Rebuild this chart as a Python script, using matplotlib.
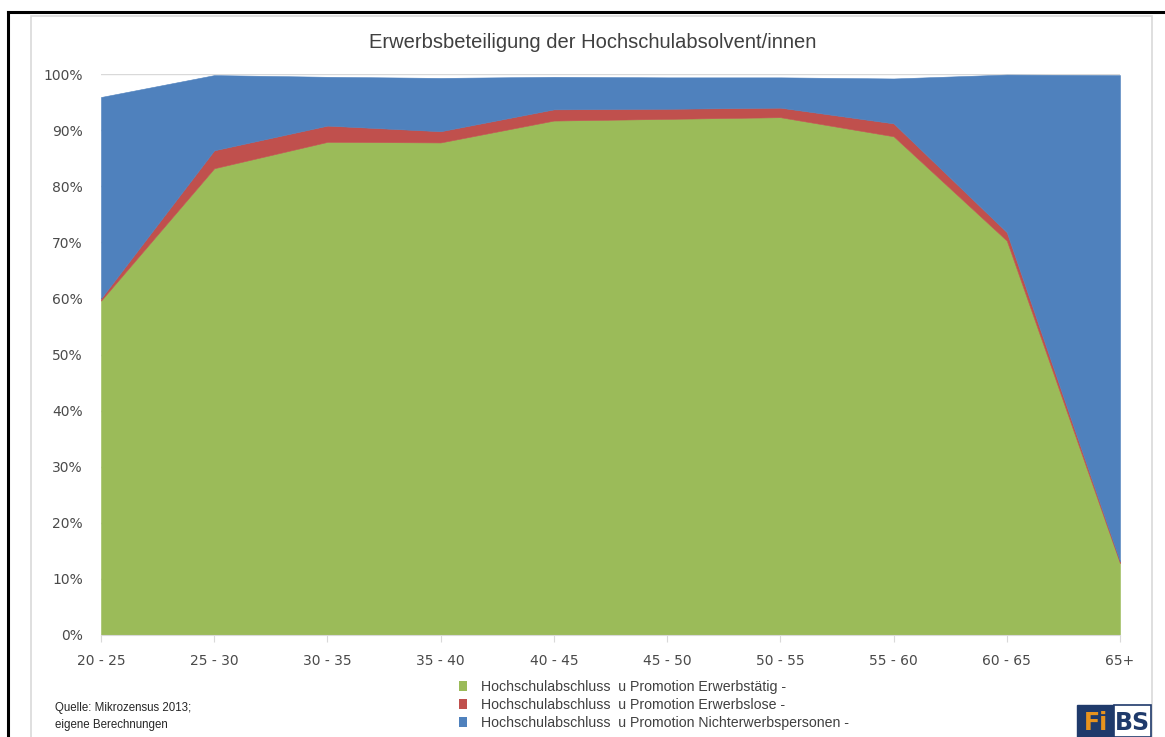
import matplotlib
matplotlib.use('Agg')
import matplotlib.pyplot as plt
from matplotlib import font_manager
from matplotlib.patches import Patch, Rectangle
from matplotlib.lines import Line2D

# ------------- Data (share of graduates, in %) -------------
age_groups = ['20 - 25', '25 - 30', '30 - 35', '35 - 40', '40 - 45',
              '45 - 50', '50 - 55', '55 - 60', '60 - 65', '65+']
employed = [59.6, 83.2, 87.9, 87.8, 91.7, 92.0, 92.3, 88.9, 70.3, 12.8]
unemployed = [0.4, 3.2, 2.9, 2.0, 2.0, 1.8, 1.7, 2.3, 1.5, 0.3]
inactive = [35.9, 13.4, 8.7, 9.5, 5.8, 5.6, 5.4, 8.0, 28.1, 86.7]

series_labels = ['Hochschulabschluss  u Promotion Erwerbstätig -',
                 'Hochschulabschluss  u Promotion Erwerbslose -',
                 'Hochschulabschluss  u Promotion Nichterwerbspersonen -']
y_ticks = [0, 10, 20, 30, 40, 50, 60, 70, 80, 90, 100]

GREEN, RED, BLUE = '#9BBB59', '#C0504D', '#4F81BD'
TEXT = '#4A4A4A'
LIGHT = '#D9D9D9'

# narrow font for title/legend if there is one
_names = {f.name for f in font_manager.fontManager.ttflist}
NARROW = 'Liberation Sans Narrow' if 'Liberation Sans Narrow' in _names else 'Liberation Sans'

W, H = 1165, 737
fig = plt.figure(figsize=(W / 100, H / 100), dpi=100)
fig.patch.set_facecolor('white')


def fx(px):
    return px / W


def fy(py):
    return 1 - py / H


ax = fig.add_axes([fx(101), fy(635), fx(1120) - fx(101), fy(74) - fy(635)])

x = list(range(len(age_groups)))
polys = ax.stackplot(x, employed, unemployed, inactive,
                     colors=[GREEN, RED, BLUE], linewidth=0.4, zorder=3)
for p, c in zip(polys, [GREEN, RED, BLUE]):
    p.set_edgecolor(c)

ax.set_xlim(0, len(age_groups) - 1)
ax.set_ylim(0, 100)
ax.set_yticks(y_ticks)
ax.set_yticklabels([f'{t}%' for t in y_ticks])
ax.set_xticks(x)
ax.set_xticklabels(age_groups)
ax.yaxis.grid(True, color=LIGHT, linewidth=1, zorder=0)
ax.set_axisbelow(True)

for s in ['top', 'right', 'left']:
    ax.spines[s].set_visible(False)
ax.spines['bottom'].set_color(LIGHT)
ax.spines['bottom'].set_zorder(4)
ax.tick_params(axis='y', length=0, pad=13, labelsize=10, labelcolor=TEXT)
ax.tick_params(axis='x', length=5, color=LIGHT, pad=9, labelsize=10, labelcolor=TEXT)
for lab in ax.get_xticklabels() + ax.get_yticklabels():
    lab.set_fontfamily('DejaVu Sans')

# title
fig.text(fx(593), fy(42), 'Erwerbsbeteiligung der Hochschulabsolvent/innen',
         ha='center', va='center', fontsize=14.5, color='#404040', family=NARROW)

# legend
handles = [Patch(facecolor=c, edgecolor='none') for c in [GREEN, RED, BLUE]]
fig.legend(handles, series_labels, loc='upper left',
           bbox_to_anchor=(fx(459), fy(680)), frameon=False,
           handlelength=0.55, handleheight=0.75, handletextpad=1.0,
           labelspacing=0.28, borderpad=0, borderaxespad=0,
           prop={'family': NARROW, 'size': 10.2}, labelcolor='#404040')

# source note
fig.text(fx(55), fy(708), 'Quelle: Mikrozensus 2013;', ha='left', va='center',
         fontsize=8.3, color='#262626', family=NARROW)
fig.text(fx(55), fy(725), 'eigene Berechnungen', ha='left', va='center',
         fontsize=8.3, color='#262626', family=NARROW)

# outer black frame (top and left) and light inner chart border
fig.add_artist(Line2D([fx(8), 1], [fy(12), fy(12)], color='black', linewidth=2.2))
fig.add_artist(Line2D([fx(8), fx(8)], [fy(12), 0], color='black', linewidth=2.2))
fig.add_artist(Rectangle((fx(31), -0.01), fx(1152) - fx(31), fy(16) + 0.01,
                         transform=fig.transFigure, facecolor='none',
                         edgecolor=LIGHT, linewidth=1.2))

# FiBS logo
fig.add_artist(Rectangle((fx(1077), 0), fx(1114) - fx(1077), fy(705),
                         transform=fig.transFigure, facecolor='#1F3A6B', edgecolor='#1F3A6B'))
fig.add_artist(Rectangle((fx(1114), 0), fx(1151) - fx(1114), fy(705),
                         transform=fig.transFigure, facecolor='white',
                         edgecolor='#1F3A6B', linewidth=1.2))
fig.text(fx(1096), fy(723), 'Fi', ha='center', va='center', fontsize=17,
         fontweight='bold', color='#E8931E', family='DejaVu Sans')
fig.text(fx(1132), fy(723), 'BS', ha='center', va='center', fontsize=17,
         fontweight='bold', color='#1F3A6B', family='DejaVu Sans')

fig.savefig('out.png', dpi=100)
